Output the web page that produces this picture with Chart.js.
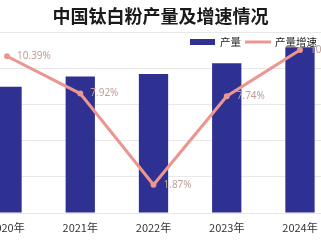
<!DOCTYPE html>
<html><head><meta charset="utf-8">
<script src="https://cdn.jsdelivr.net/npm/chart.js@4"></script>
<style>
html,body{margin:0;padding:0;width:321px;height:241px;overflow:hidden;background:#fff;position:relative}
#title{position:absolute;left:0;top:2px;width:321px;text-align:center;font:700 18px "Noto Sans CJK SC";color:#1a1a1a;line-height:26px;z-index:2;letter-spacing:0px}
#wrap{position:absolute;left:-40px;top:0;width:400px;height:241px}
</style></head><body>
<div id="title">中国钛白粉产量及增速情况</div>
<div id="wrap"><canvas id="c"></canvas></div>
<script>
const categories = ['2020年','2021年','2022年','2023年','2024年'];
const production = [349, 377, 384, 414, 458];
const growth = [10.39, 7.92, 1.87, 7.74, 10.80];
const seriesNames = ['产量','产量增速'];
const yTicks = [0,100,200,300,400,500];
const growthTicks = [0,12];

const barColor = '#2e3192';
const lineColor = '#eb968e';

const pointLabels = {
  id:'pointLabels',
  afterDatasetsDraw(chart){
    const meta = chart.getDatasetMeta(1);
    const ctx = chart.ctx;
    ctx.save();
    ctx.font = '10px "Noto Sans"';
    ctx.fillStyle = '#bf9e96';
    ctx.textAlign='left'; ctx.textBaseline='middle';
    meta.data.forEach((pt,i)=>{ ctx.fillText(growth[i].toFixed(2)+'%', pt.x+10, pt.y); });
    ctx.restore();
  }
};

const customLegend = {
  id:'customLegend',
  afterDraw(chart){
    const ctx = chart.ctx;
    ctx.save();
    ctx.font = '10.5px "Noto Sans CJK SC"';
    ctx.textBaseline='middle'; ctx.textAlign='left';
    let x = 230; const y = 42;
    chart.data.datasets.forEach((ds,i)=>{
      if (ds.type === 'bar') {
        ctx.fillStyle = ds.backgroundColor;
        ctx.fillRect(x, y-3, 25, 6);
      } else {
        ctx.strokeStyle = ds.borderColor; ctx.lineWidth = 3;
        ctx.beginPath(); ctx.moveTo(x, y); ctx.lineTo(x+26, y); ctx.stroke();
      }
      x += 30;
      ctx.fillStyle = '#1a1a1a';
      ctx.fillText(ds.label, x, y);
      x += ctx.measureText(ds.label).width + 4;
    });
    ctx.restore();
  }
};

new Chart(document.getElementById('c'), {
  data: {
    labels: categories,
    datasets: [
      {type:'bar', label:seriesNames[0], data:production, backgroundColor:barColor, yAxisID:'y', order:1,
       categoryPercentage:1, barPercentage:0.4},
      {type:'line', label:seriesNames[1], data:growth, borderColor:lineColor, backgroundColor:lineColor,
       borderWidth:3, pointRadius:1.5, pointHoverRadius:2, tension:0, yAxisID:'y1', order:0}
    ]
  },
  options: {
    responsive:true, maintainAspectRatio:false, animation:false,
    layout:{padding:{left:10.4, right:23.4, top:32, bottom:0}},
    plugins:{legend:{display:false}, title:{display:false}, tooltip:{enabled:false}},
    scales:{
      x:{grid:{display:false, drawTicks:false, tickLength:0}, border:{display:false},
         afterFit:(s)=>{ s.height = 28; },
         ticks:{padding:8, color:'#333', font:{size:11, family:'"Noto Sans CJK SC"'}}},
      y:{position:'left', min:yTicks[0], max:yTicks[yTicks.length-1], border:{display:false},
         grid:{color:'#e8e8e8', drawTicks:false},
         ticks:{display:false, stepSize:yTicks[1]-yTicks[0]}},
      y1:{display:false, position:'right', min:growthTicks[0], max:growthTicks[1]}
    }
  },
  plugins:[pointLabels, customLegend]
});
</script>
</body></html>
